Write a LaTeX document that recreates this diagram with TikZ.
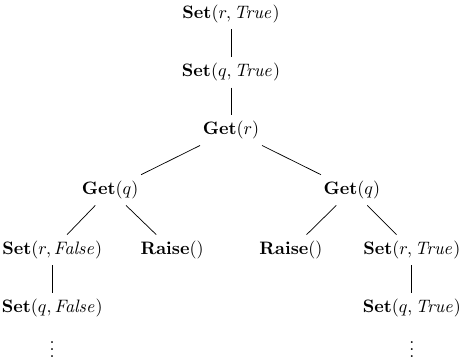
\documentclass[tikz,border=0pt]{standalone}
\usepackage{amsmath}
\usepackage{tikz}
\usetikzlibrary{positioning}

\begin{document}
\begin{tikzpicture}[
  callnode/.style={font=\normalsize},
  link/.style={draw, thin}]
\useasboundingbox (0,0) rectangle (8.98,-7.07);
% Nodes
\node[callnode] (setr)  at (4.51,-0.27) {$\mathbf{Set}(r, \mathit{True})$};
\node[callnode] (setq)  at (4.51,-1.41) {$\mathbf{Set}(q, \mathit{True})$};
\node[callnode] (getr)  at (4.51,-2.54) {$\mathbf{Get}(r)$};
\node[callnode] (getql) at (2.15,-3.71) {$\mathbf{Get}(q)$};
\node[callnode] (getqr) at (6.87,-3.71) {$\mathbf{Get}(q)$};
\node[callnode] (setrf) at (1.02,-4.88) {$\mathbf{Set}(r, \mathit{False})$};
\node[callnode] (raisel) at (3.36,-4.88) {$\mathbf{Raise}()$};
\node[callnode] (raiser) at (5.68,-4.88) {$\mathbf{Raise}()$};
\node[callnode] (setrt) at (8.04,-4.88) {$\mathbf{Set}(r, \mathit{True})$};
\node[callnode] (setqf) at (1.02,-6.01) {$\mathbf{Set}(q, \mathit{False})$};
\node[callnode] (setqt) at (8.04,-6.01) {$\mathbf{Set}(q, \mathit{True})$};
\node[callnode] (dotsl) at (1.02,-6.72) {$\vdots$};
\node[callnode] (dotsr) at (8.04,-6.72) {$\vdots$};
% Edges
\draw[link] (setr) -- (setq);
\draw[link] (setq) -- (getr);
\draw[link] (getr) -- (getql);
\draw[link] (getr) -- (getqr);
\draw[link] (getql) -- (setrf);
\draw[link] (getql) -- (raisel);
\draw[link] (getqr) -- (raiser);
\draw[link] (getqr) -- (setrt);
\draw[link] (setrf) -- (setqf);
\draw[link] (setrt) -- (setqt);
\end{tikzpicture}
\end{document}
